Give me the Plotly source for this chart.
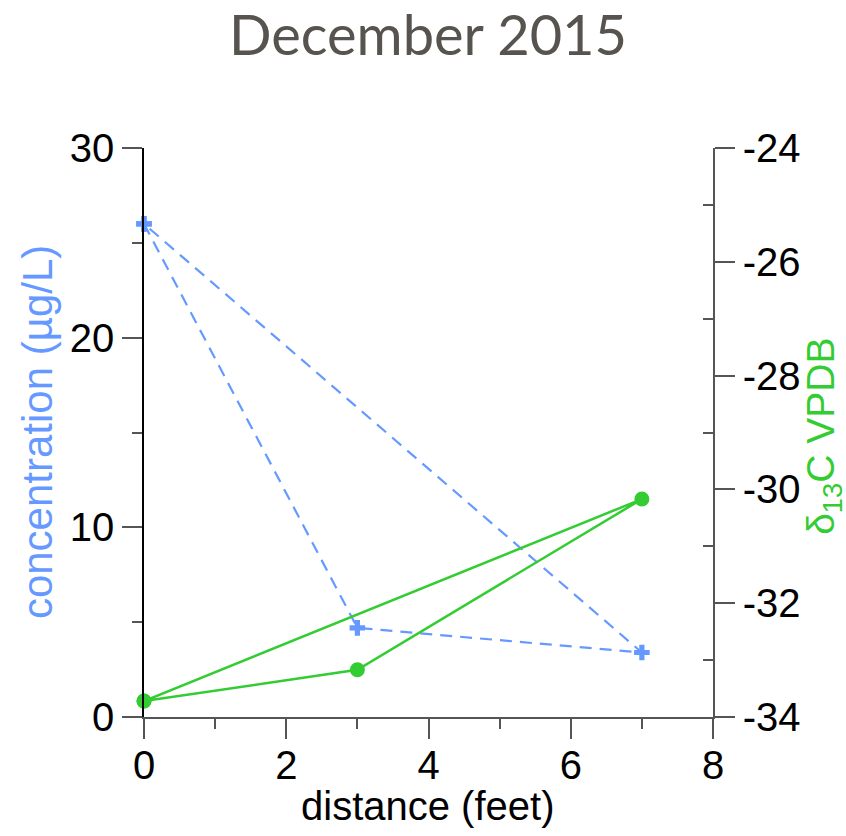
import plotly.graph_objects as go

# Data (loop closes back to the first sample)
distance_ft = [0, 3, 7, 0]
concentration = [26.0, 4.7, 3.4, 26.0]
d13c = [-33.72, -33.17, -30.17, -33.72]

x_ticks = [0, 2, 4, 6, 8]
x_minor = [1, 3, 5, 7]
conc_ticks = [0, 10, 20, 30]
conc_minor = [5, 15, 25]
d13c_ticks = [-34, -32, -30, -28, -26, -24]
d13c_labels = ["-34", "-32", "-30", "-28", "-26", "-24"]
d13c_minor = [-33, -31, -29, -27, -25]

BLUE = "#6699FF"
GREEN = "#33CC33"
FONT = "Liberation Sans, Arial, sans-serif"
TICKC = "#555555"

fig = go.Figure()
fig.add_trace(go.Scatter(
    x=distance_ft, y=concentration, mode="lines+markers",
    line=dict(color=BLUE, width=2.2, dash="12px,8px"),
    marker=dict(symbol="cross", size=13, color=BLUE),
    yaxis="y", showlegend=False, cliponaxis=False))
fig.add_trace(go.Scatter(
    x=distance_ft, y=d13c, mode="lines+markers",
    line=dict(color=GREEN, width=2.5),
    marker=dict(symbol="circle", size=15, color=GREEN),
    yaxis="y2", showlegend=False, cliponaxis=False))

tickfont = dict(family=FONT, size=40, color="black")

fig.update_layout(
    width=846, height=836,
    margin=dict(l=144, r=133, t=148, b=119),
    paper_bgcolor="white", plot_bgcolor="white",
    title=dict(text="December 2015", x=0.506, xanchor="center",
               y=1 - 35 / 836, yanchor="middle", yref="container",
               font=dict(family="Lato, Open Sans, sans-serif", size=56, color="#57534E")),
    xaxis=dict(range=[0, 8], tickmode="array", tickvals=x_ticks,
               ticktext=[str(v) for v in x_ticks],
               ticks="outside", ticklen=20, tickcolor=TICKC, tickwidth=1.5,
               ticklabelstandoff=-8,
               showline=True, linecolor=TICKC, linewidth=1.5,
               showgrid=False, zeroline=False, tickfont=tickfont,
               minor=dict(tickmode="array", tickvals=x_minor, ticks="outside",
                          ticklen=10, tickcolor=TICKC, tickwidth=1.5, showgrid=False)),
    yaxis=dict(range=[0, 30], tickmode="array", tickvals=conc_ticks,
               ticktext=[str(v) for v in conc_ticks],
               ticks="outside", ticklen=20, tickcolor=TICKC, tickwidth=1.5,
               showline=True, linecolor="black", linewidth=1.5,
               showgrid=False, zeroline=False, tickfont=tickfont,
               minor=dict(tickmode="array", tickvals=conc_minor, ticks="outside",
                          ticklen=10, tickcolor=TICKC, tickwidth=1.5, showgrid=False)),
    yaxis2=dict(range=[-34, -24], tickmode="array", tickvals=d13c_ticks,
                ticktext=d13c_labels,
                ticks="outside", ticklen=20, tickcolor=TICKC, tickwidth=1.5,
                overlaying="y", side="right",
                showline=True, linecolor=TICKC, linewidth=1.5,
                showgrid=False, zeroline=False, tickfont=tickfont,
                minor=dict(tickmode="array", tickvals=d13c_minor, ticks="inside",
                           ticklen=10, tickcolor=TICKC, tickwidth=1.5, showgrid=False)),
)

fig.add_annotation(text="distance (feet)", xref="paper", yref="paper",
                   x=0.499, y=-0.157, xanchor="center", yanchor="middle",
                   showarrow=False, font=dict(family=FONT, size=40, color="black"))
fig.add_annotation(text="concentration (µg/L)", xref="paper", yref="paper",
                   x=-0.186, y=0.501, xanchor="center", yanchor="middle", textangle=-90,
                   showarrow=False, borderpad=0, font=dict(family=FONT, size=42, color=BLUE))
fig.add_annotation(text="δ<sub>13</sub>C VPDB", xref="paper", yref="paper",
                   x=1.195, y=0.494, xanchor="center", yanchor="middle", textangle=-90,
                   showarrow=False, borderpad=0, font=dict(family=FONT, size=39, color=GREEN))

fig.write_html("out.html")
